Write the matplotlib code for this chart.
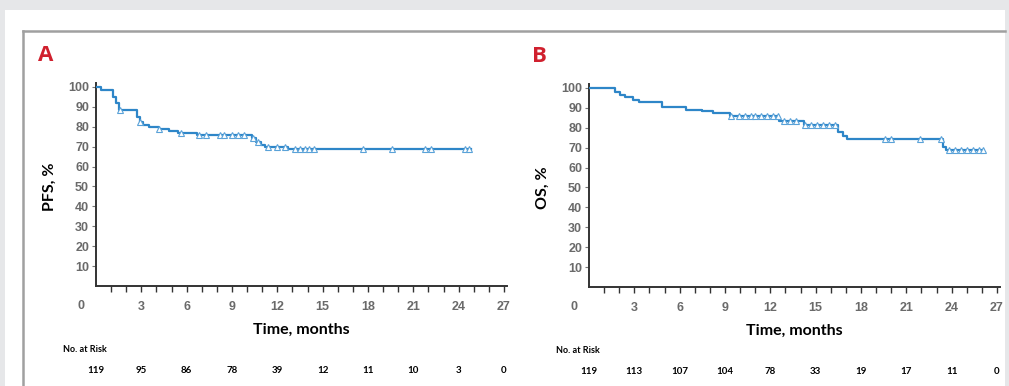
import numpy as np
import matplotlib.pyplot as plt
from matplotlib.patches import Rectangle
from matplotlib.lines import Line2D

# Courbes de Kaplan-Meier
pfs_t = [0, 0.3, 1.1, 1.3, 1.5, 2.7, 2.9, 3.1, 3.5, 4.2, 4.8, 5.4, 6.7, 10.3, 10.6, 10.9, 11.2, 12.7, 24.8]
pfs_s = [100, 98.3, 95, 92, 88.5, 85, 82.5, 81, 80, 79, 78, 77, 76, 74.5, 72.5, 71, 70, 69, 69]
pfs_cens = [1.6, 2.9, 4.2, 5.6, 6.8, 7.3, 8.2, 8.5, 9.0, 9.4, 9.8, 10.4, 10.7, 11.4, 12.0, 12.5,
            13.2, 13.5, 13.8, 14.1, 14.4, 17.7, 19.6, 21.8, 22.2, 24.4, 24.7]

os_t = [0, 1.7, 2.05, 2.4, 2.9, 3.3, 4.8, 6.4, 7.5, 8.2, 9.3, 12.6, 14.2, 16.5, 16.8, 17.1, 23.4, 23.6, 26.1]
os_s = [100, 98, 96.5, 95.5, 94, 92.8, 90.3, 89, 88.4, 87.2, 85.8, 83.3, 81.5, 78, 76, 74.2, 70.5, 68.8, 68.8]
os_cens = [9.4, 9.9, 10.3, 10.7, 11.0, 11.4, 11.8, 12.2, 12.5, 12.9, 13.3, 13.7, 14.3, 14.7, 15.1,
           15.5, 15.9, 16.3, 19.6, 20.0, 21.9, 23.3, 23.8, 24.2, 24.6, 25.0, 25.4, 25.8, 26.1]

risk_times = [0, 3, 6, 9, 12, 15, 18, 21, 24, 27]
pfs_risk = [119, 95, 86, 78, 39, 12, 11, 10, 3, 0]
os_risk = [119, 113, 107, 104, 78, 33, 19, 17, 11, 0]

W, H = 1009, 386
fig = plt.figure(figsize=(W / 100, H / 100), dpi=100, facecolor='#e6e7e9')

# fond blanc et cadre
fig.patches.append(Rectangle((5 / W, 0), 1000 / W, 376 / H, transform=fig.transFigure,
                             facecolor='white', edgecolor='none', zorder=-10))
fig.lines.append(Line2D([23 / W, 1005 / W], [1 - 31 / H, 1 - 31 / H], transform=fig.transFigure,
                        color='#a0a0a0', lw=1.8, zorder=-5))
fig.lines.append(Line2D([23 / W, 23 / W], [0, 1 - 31 / H], transform=fig.transFigure,
                        color='#a0a0a0', lw=1.8, zorder=-5))

line_col = '#2e86c8'
mark_col = '#5aa2d8'
tick_col = '#6a6a6a'


def panel(left_px, axis_px, t, s, cens, risk, ylabel, letter):
    ax = fig.add_axes([left_px / W, (H - axis_px) / H, 411 / W, 203 / H])
    ax.set_facecolor('none')
    ax.step(t, s, where='post', color=line_col, lw=1.6, zorder=3)
    cy = [s[np.searchsorted(t, c, side='right') - 1] for c in cens]
    ax.plot(cens, cy, ls='none', marker='^', ms=4, mfc='white', mec=mark_col, mew=0.8, zorder=4)

    ax.set_xlim(0, 27.2)
    ax.set_ylim(0, 102)
    for side in ['top', 'right']:
        ax.spines[side].set_visible(False)
    for side in ['left', 'bottom']:
        ax.spines[side].set_color('#333333')
        ax.spines[side].set_linewidth(1.4)

    ax.set_xticks(risk_times[1:])
    ax.set_xticks(range(1, 28), minor=True)
    ax.set_yticks(range(10, 101, 10))
    ax.tick_params(axis='x', which='both', direction='out', length=4.5, width=1, color='#333333',
                   pad=6, labelsize=9, labelcolor=tick_col)
    ax.tick_params(axis='y', direction='out', length=3, width=0.8, color='#777777',
                   pad=2, labelsize=9, labelcolor=tick_col)
    for lab in ax.get_xticklabels() + ax.get_yticklabels():
        lab.set_fontweight('bold')
        lab.set_family('Liberation Sans')
    ax.text(-1.0, -10, '0', ha='center', va='center', fontsize=9, color=tick_col,
            fontweight='bold', family='Liberation Sans', clip_on=False)

    ax.set_xlabel('Time, months', fontsize=11.5, fontweight='bold', family='Lato')
    ax.xaxis.set_label_coords(0.5, -0.18)
    ax.text(-46 / 411 * 27.2, 50, ylabel, rotation=90, ha='center', va='center',
            fontsize=11.5, fontweight='bold', family='Lato', clip_on=False)
    ax.text(-50 / 411 * 27.2, 116, letter, ha='center', va='center', fontsize=16,
            fontweight='bold', family='Open Sans', color='#d0202e', clip_on=False)

    ax.text(-33 / 411 * 27.2, -32, 'No. at Risk', ha='left', va='center', fontsize=6.5,
            fontweight='bold', family='Lato', clip_on=False)
    for x, n in zip(risk_times, risk):
        ax.text(x, -42.5, str(n), ha='center', va='center', fontsize=7,
                fontweight='bold', family='Lato', clip_on=False)
    return ax


panel(96, 286, pfs_t, pfs_s, pfs_cens, pfs_risk, 'PFS, %', 'A')
panel(589, 287, os_t, os_s, os_cens, os_risk, 'OS, %', 'B')

fig.savefig('out.png', dpi=100, facecolor=fig.get_facecolor())
